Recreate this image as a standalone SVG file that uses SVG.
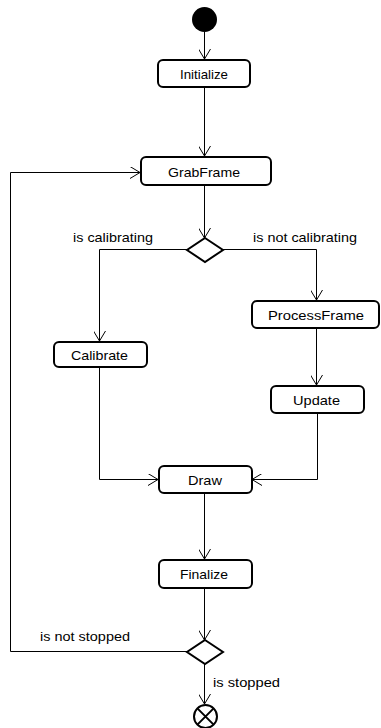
<svg xmlns="http://www.w3.org/2000/svg" width="381" height="728" viewBox="0 0 381 728">
<style>
.node rect{fill:#fff;stroke:#000;stroke-width:2}
text{font-family:"Liberation Sans",Arial,sans-serif;font-size:13px;fill:#000;stroke:none;font-weight:normal}
.node text{text-anchor:middle}
.edge{fill:none;stroke:#000;stroke-width:1}
.dia{fill:#fff;stroke:#000;stroke-width:2}
</style>
<defs>
<marker id="arr" viewBox="0 0 10 12" refX="10" refY="6" markerWidth="10" markerHeight="12" markerUnits="userSpaceOnUse" orient="auto">
<path d="M0,0 L10,6 L0,12" fill="none" stroke="#000" stroke-width="1"/>
</marker>
</defs>
<g id="connectors">
<path class="edge" d="M204.5,32 V59" marker-end="url(#arr)"/>
<path class="edge" d="M204.5,87 V156" marker-end="url(#arr)"/>
<path class="edge" d="M204.5,185 V238" marker-end="url(#arr)"/>
<path class="edge" d="M187,249.5 H99.5 V341" marker-end="url(#arr)"/>
<path class="edge" d="M223,249.5 H316.5 V300" marker-end="url(#arr)"/>
<path class="edge" d="M316.5,328 V385" marker-end="url(#arr)"/>
<path class="edge" d="M99.5,367 V479.5 H158" marker-end="url(#arr)"/>
<path class="edge" d="M317.5,413 V479.5 H252" marker-end="url(#arr)"/>
<path class="edge" d="M204.5,493 V559" marker-end="url(#arr)"/>
<path class="edge" d="M204.5,588 V640" marker-end="url(#arr)"/>
<path class="edge" d="M187,651.5 H10.5 V172.5 H140" marker-end="url(#arr)"/>
<path class="edge" d="M204.5,663 V704" marker-end="url(#arr)"/>
<text x="73" y="242" textLength="80" lengthAdjust="spacingAndGlyphs">is calibrating</text>
<text x="253" y="242" textLength="104" lengthAdjust="spacingAndGlyphs">is not calibrating</text>
<text x="40" y="641" textLength="90" lengthAdjust="spacingAndGlyphs">is not stopped</text>
<text x="213" y="687" textLength="67" lengthAdjust="spacingAndGlyphs">is stopped</text>
</g>
<g id="start"><circle cx="204.5" cy="19.5" r="12.5" fill="#000"/></g>
<g id="initialize" class="node"><rect x="158" y="60" width="92" height="27" rx="5"/><text x="204" y="79" textLength="48" lengthAdjust="spacingAndGlyphs">Initialize</text></g>
<g id="grabframe" class="node"><rect x="141" y="157" width="130" height="28" rx="5"/><text x="204" y="177" textLength="72" lengthAdjust="spacingAndGlyphs">GrabFrame</text></g>
<g id="decision1"><path class="dia" d="M205,238 L223,250 L205,262 L187,250 Z"/></g>
<g id="calibrate" class="node"><rect x="54" y="342" width="93" height="25" rx="5"/><text x="99.5" y="360" textLength="57" lengthAdjust="spacingAndGlyphs">Calibrate</text></g>
<g id="processframe" class="node"><rect x="252" y="301" width="127" height="27" rx="5"/><text x="316" y="320" textLength="96" lengthAdjust="spacingAndGlyphs">ProcessFrame</text></g>
<g id="update" class="node"><rect x="271" y="386" width="93" height="27" rx="5"/><text x="316.5" y="405" textLength="47" lengthAdjust="spacingAndGlyphs">Update</text></g>
<g id="draw" class="node"><rect x="159" y="466" width="93" height="27" rx="5"/><text x="205" y="485" textLength="34" lengthAdjust="spacingAndGlyphs">Draw</text></g>
<g id="finalize" class="node"><rect x="159" y="560" width="93" height="28" rx="5"/><text x="204" y="579" textLength="48" lengthAdjust="spacingAndGlyphs">Finalize</text></g>
<g id="decision2"><path class="dia" d="M205,640 L223,652 L205,664 L187,652 Z"/></g>
<g id="end"><circle cx="205.5" cy="716.5" r="11.5" fill="#fff" stroke="#000" stroke-width="2"/><path d="M197.4,708.4 L213.6,724.6 M213.6,708.4 L197.4,724.6" stroke="#000" stroke-width="2"/></g>
</svg>
